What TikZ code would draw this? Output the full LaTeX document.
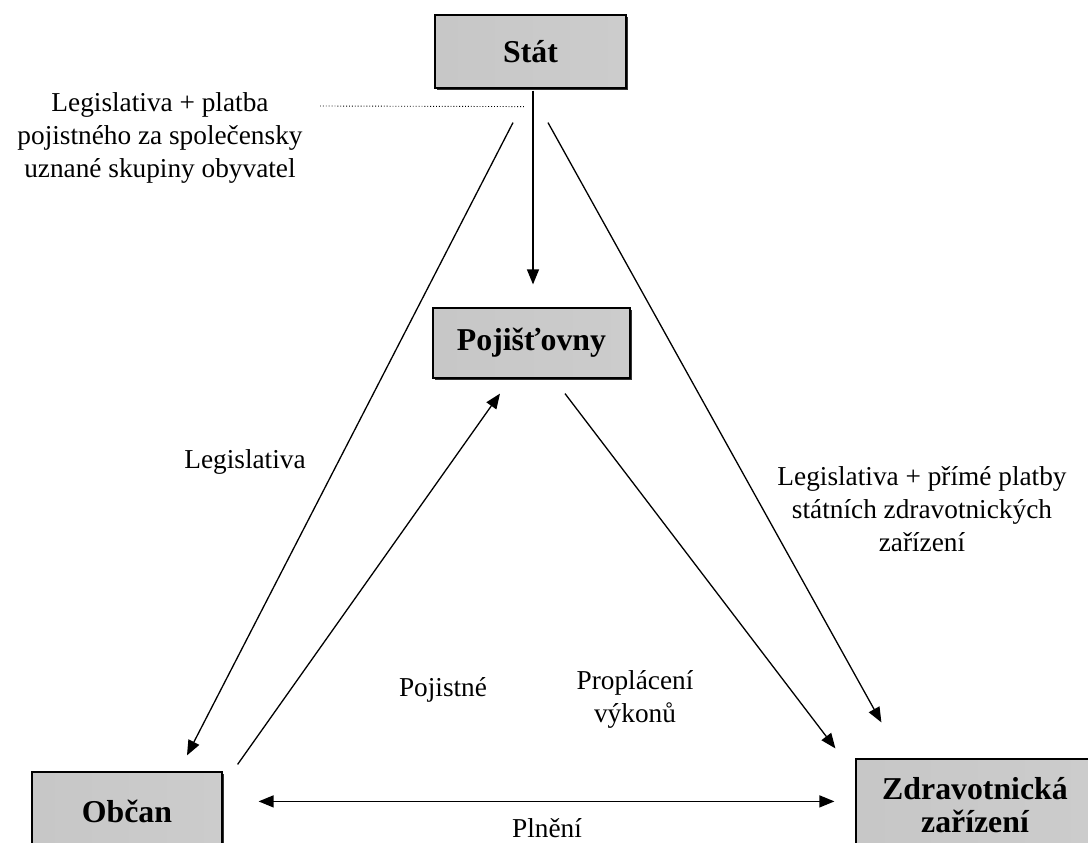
\documentclass[tikz,border=0pt]{standalone}
\usepackage{fontspec}
\setmainfont{Liberation Serif}
\usetikzlibrary{arrows.meta,calc,shadows}

\tikzset{
  box/.style={draw=black, line width=1.2pt, inner sep=0pt, align=center,
    left color=black!22, middle color=white, right color=black!20,
    font=\bfseries\fontsize{31.8}{36}\selectfont,
    drop shadow={shadow xshift=1.6pt, shadow yshift=-1.6pt, fill=black!80, opacity=1}},
  lbl/.style={inner sep=0pt, align=center, font=\fontsize{27.3}{33}\selectfont},
  link/.style={line width=1.3pt, -{Triangle[length=15pt,width=12pt]}},
  biLink/.style={line width=1.3pt, {Triangle[length=15pt,width=12pt]}-{Triangle[length=15pt,width=12pt]}},
  guide/.style={line width=0.9pt, dotted}
}

\begin{document}
\begin{tikzpicture}[x=1pt, y=-1pt]
  \clip (0,0) rectangle (1088,843);
  \fill[white] (0,0) rectangle (1088,843);

  % boxes
  \node[box, minimum width=191pt, minimum height=73pt] (stat) at (530.5,51.5) {Stát};
  \node[box, minimum width=197pt, minimum height=70pt] (poj) at (531.5,343) {Pojišťovny};
  \node[box, minimum width=190pt, minimum height=78pt] (obcan) at (127,811) {Občan};
  \node[box, minimum width=238pt, minimum height=92pt] (zdrav) at (975,805) {Zdravotnická\\[-3pt]zařízení};

  % labels
  \node[lbl] (tl) at (160,138) {Legislativa + platba\\pojistného za společensky\\uznané skupiny obyvatel};
  \node[lbl] (legL) at (245,462) {Legislativa};
  \node[lbl] (legR) at (922,509) {Legislativa + přímé platby\\státních zdravotnických\\zařízení};
  \node[lbl] (pojistne) at (443,690) {Pojistné};
  \node[lbl] (proplaceni) at (635,699) {Proplácení\\výkonů};
  \node[lbl] (plneni) at (547,828) {Plnění};

  % connectors
  \coordinate (guideStart) at (320,106);
  \draw[guide] (guideStart) -- ($(stat.south)+(-5.5,18)$);
  \draw[link] ($(stat.south)+(2.5,2)$) -- ($(poj.north)+(1.5,-23)$);
  \draw[link] ($(stat.south)+(-17.5,34)$) -- ($(obcan.north)+(60,-16)$);
  \draw[link] ($(stat.south)+(17.5,34)$) -- ($(zdrav.north west)+(26,-36)$);
  \draw[link] ($(obcan.north east)+(15,-7)$) -- ($(poj.south)+(-31.5,15)$);
  \draw[link] ($(poj.south)+(33.5,15)$) -- ($(zdrav.north west)+(-20,-10)$);
  \draw[biLink] ($(obcan.north east)+(36,30)$) -- ($(zdrav.north west)+(-21,43)$);
\end{tikzpicture}
\end{document}
